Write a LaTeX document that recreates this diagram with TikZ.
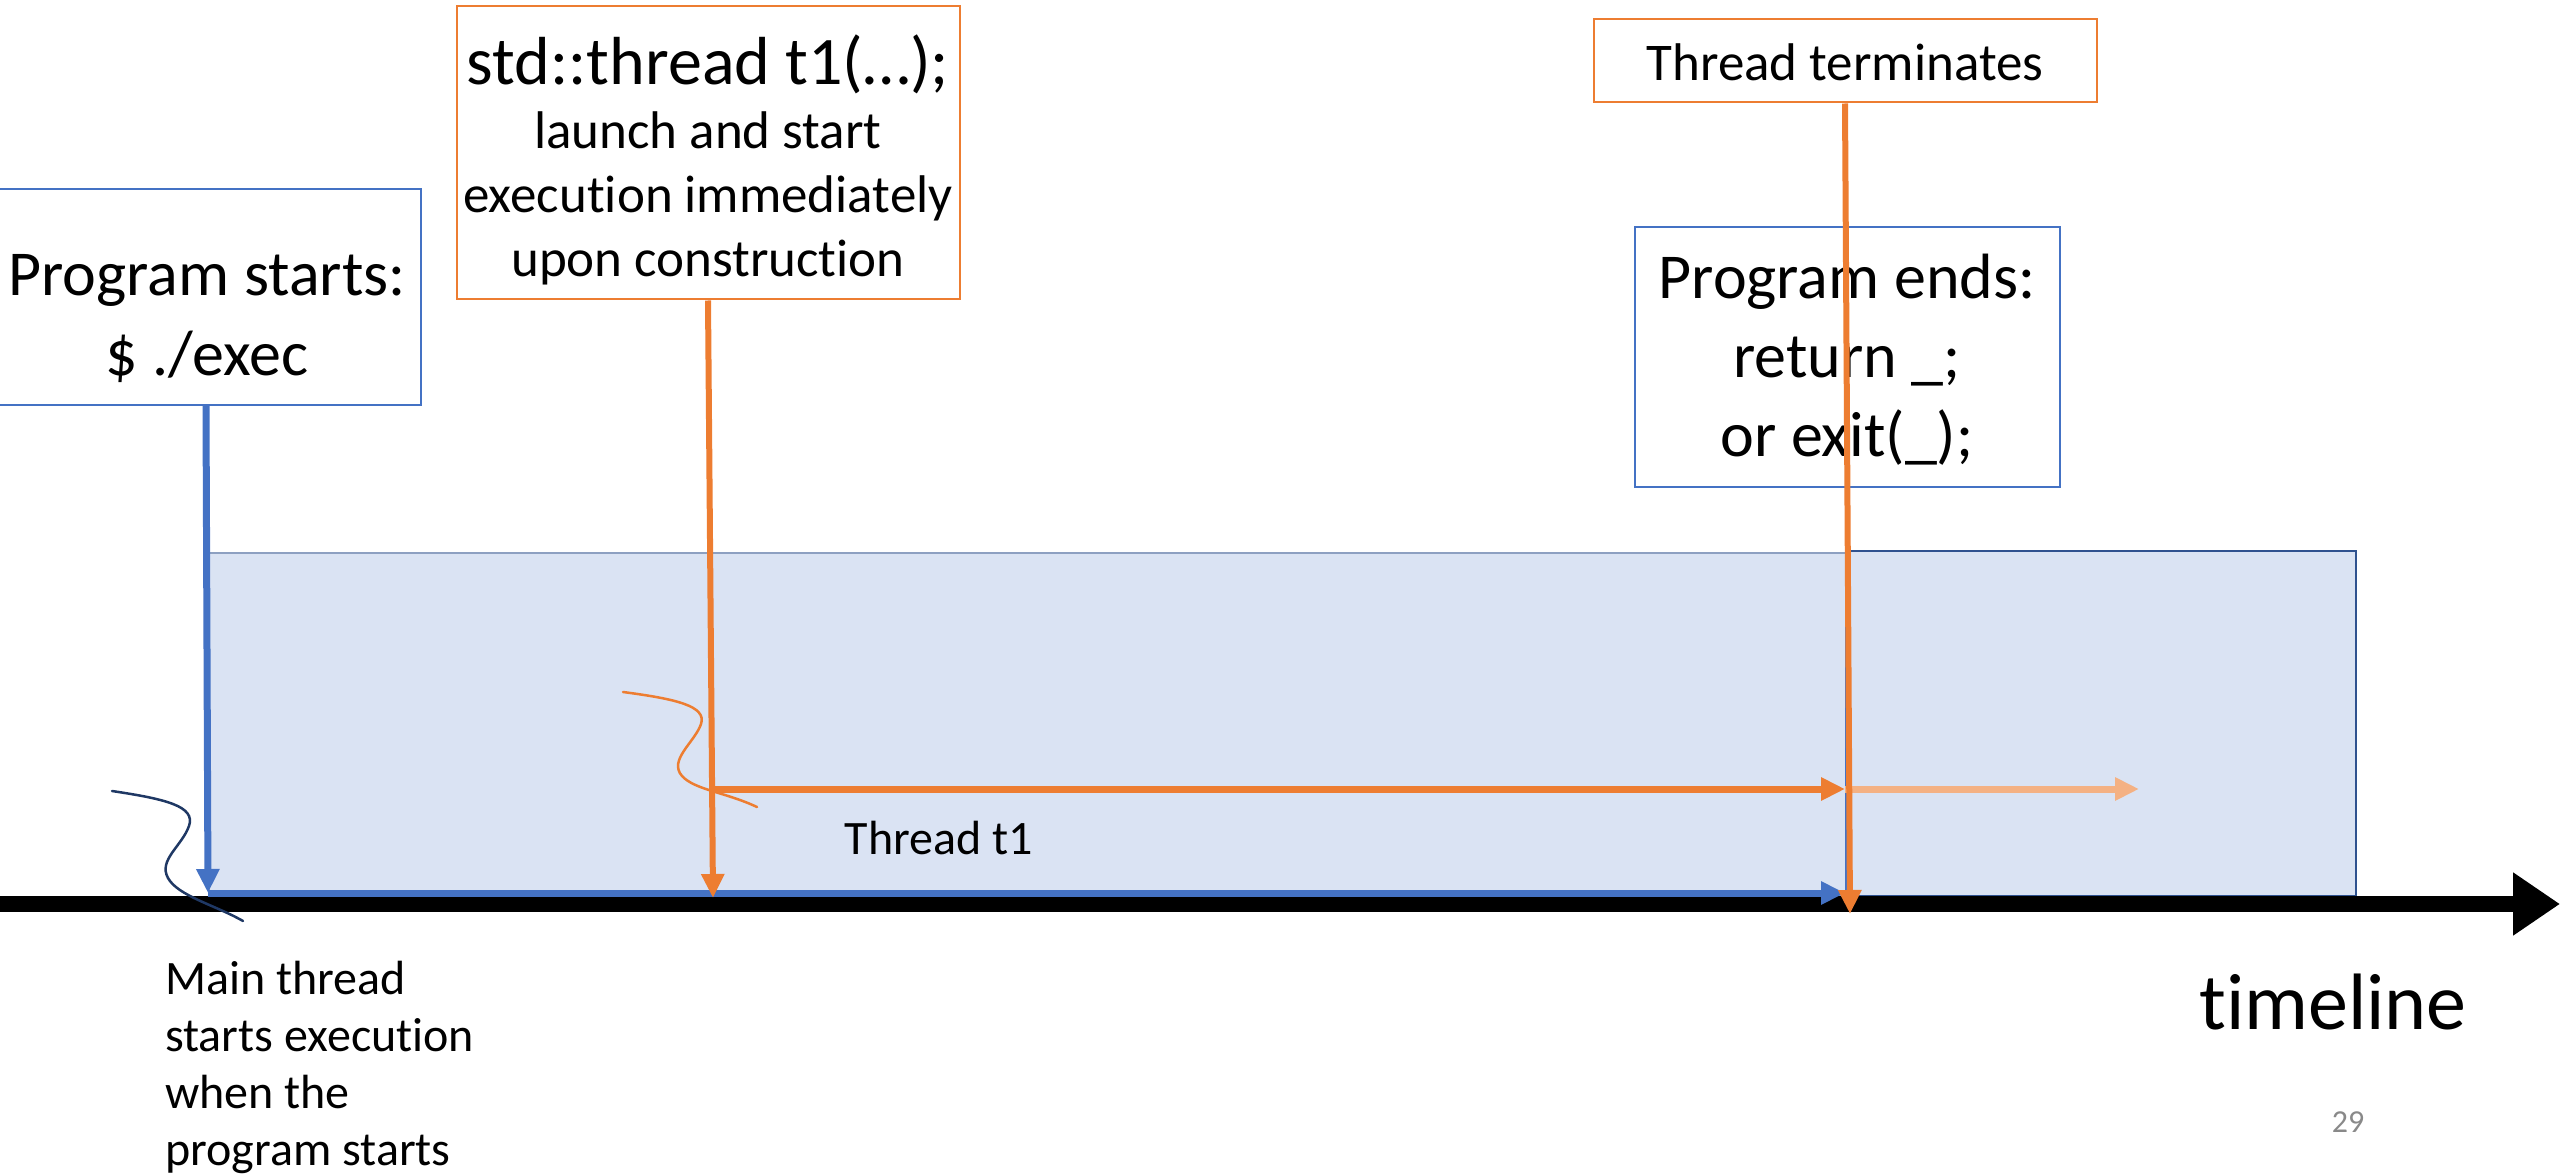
\documentclass[tikz,border=0pt]{standalone}
\usepackage{fontspec}
\setmainfont{Carlito}[Ligatures={NoCommon}]
\usetikzlibrary{arrows.meta}
\definecolor{accblue}{HTML}{4472C4}
\definecolor{accorange}{HTML}{ED7D31}
\definecolor{lightorange}{HTML}{F4B183}
\definecolor{paleblue}{HTML}{DAE3F3}
\definecolor{inkblue}{HTML}{1F3864}
\definecolor{rectedge}{HTML}{2F528F}
\definecolor{pagegray}{HTML}{898989}

\begin{document}
\begin{tikzpicture}[x=1pt,y=-1pt,
  labelbox/.style={draw=#1, line width=2pt, fill=white, inner sep=0pt},
  boxtext/.style={inner sep=0pt, align=center},
  bigtext/.style={font=\fontsize{64}{80}\selectfont},
  midtext/.style={font=\fontsize{53}{64}\selectfont},
  smalltext/.style={font=\fontsize{48}{57}\selectfont},
  flow/.style={line width=7pt, -{Triangle[length=24pt,width=22pt]}},
  squiggle/.style={line width=2.5pt, line cap=round}
]
\useasboundingbox (0,0) rectangle (2560,1174);

% process lifetime areas
\draw[draw=rectedge!55, fill=paleblue, line width=1.5pt] (209,553) rectangle (1847,896);
\draw[draw=rectedge, fill=paleblue, line width=1.5pt] (1847,551) rectangle (2356,896);

% timeline axis
\coordinate (ax0) at (0,904);
\coordinate (ax1) at (2560,904);
\draw[line width=16pt, -{Triangle[length=47pt,width=60pt]}] (ax0) -- (ax1);
\node[font=\fontsize{80}{96}\selectfont] (tl) at (2333,1002) {timeline};

% event boxes (frames) and their texts
\node[labelbox=accblue, minimum width=430pt, minimum height=216pt] (ps) at (206,297) {};
\node[boxtext, bigtext] (pstext) at (207,319) {Program starts:\\\$ ./exec};

\node[labelbox=accorange, minimum width=503pt, minimum height=293pt] (st) at (708,153) {};
\node[boxtext, midtext] (sttext) at (708,160)
  {{\fontsize{68}{70}\selectfont std::thread t1(…);}\\launch and start\\execution immediately\\upon construction};

\node[labelbox=accorange, minimum width=503pt, minimum height=83pt] (tt) at (1845,61) {};
\node[boxtext, midtext] (tttext) at (1845,62) {Thread terminates};

\node[labelbox=accblue, minimum width=425pt, minimum height=260pt] (pe) at (1847,357) {};
\node[boxtext, font=\fontsize{64}{79}\selectfont] (petext) at (1847,360)
  {Program ends:\\return \_;\\or exit(\_);};

% anchor points on the time axis
\coordinate (mstart) at (208,893);
\coordinate (mend) at (1845,893);
\coordinate (tground) at (713,898);
\coordinate (tfork) at (713,789);
\coordinate (tjoin) at (1845,789);
\coordinate (tafter) at (2139,789);
\coordinate (tend) at (1850,914);
\coordinate (pground) at (1847,898);

% main thread
\draw[accblue, line width=4pt] (pe.south) -- (pground);
\draw[accblue, flow] (ps.south) -- (mstart);
\draw[accblue, flow] (mstart) -- (mend);

% thread t1
\draw[accorange, line width=6pt, -{Triangle[length=24pt,width=22pt]}] (st.south) -- (tground);
\draw[accorange, flow] (tfork) -- (tjoin);
\draw[lightorange, flow] (tjoin) -- (tafter);
\draw[accorange, line width=6pt, -{Triangle[length=24pt,width=22pt]}] (tt.south) -- (tend);
\node[smalltext] (t1) at (939,838) {Thread t1};

% start markers
\draw[inkblue, squiggle] (112,791) .. controls (165,799) and (196,806) .. (189,826)
  .. controls (182,846) and (158,860) .. (168,878) .. controls (178,896) and (215,905) .. (243,921);
\draw[accorange, squiggle] (623,692) .. controls (676,699) and (707,706) .. (701,724)
  .. controls (695,742) and (668,760) .. (682,776) .. controls (695,790) and (725,792) .. (757,807);

% notes
\node[smalltext, align=left, anchor=north west, inner sep=0pt] (mt) at (165,961)
  {Main thread\\starts execution\\when the\\program starts};
\node[font=\fontsize{32}{38}\selectfont, text=pagegray] (pg) at (2348,1122) {29};
\end{tikzpicture}
\end{document}
